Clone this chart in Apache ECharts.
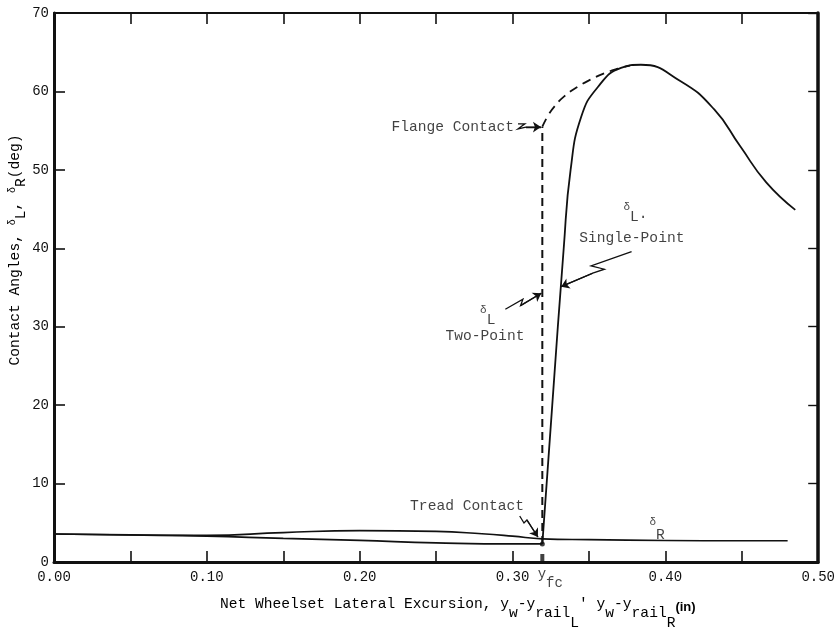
<!DOCTYPE html>
<html>
<head>
<meta charset="utf-8">
<script src="https://cdn.jsdelivr.net/npm/echarts@6/dist/echarts.min.js"></script>
<style>
  html, body { margin: 0; padding: 0; background: #fff; }
  #chart { width: 838px; height: 630px; }
</style>
</head>
<body>
<div id="chart"></div>
<script>
// flange contact position y_fc (in)
const yFc = 0.3195;

// delta R (right wheel, tread)
const deltaRX = [0, 0.05, 0.10, 0.15, 0.20, 0.25, 0.28, 0.30, 0.3195, 0.35, 0.40, 0.45, 0.48];
const deltaRY = [3.57, 3.45, 3.4, 3.75, 4.0, 3.9, 3.6, 3.3, 2.95, 2.85, 2.75, 2.7, 2.7];

// delta L on the tread, up to y_fc
const deltaLTreadX = [0, 0.05, 0.10, 0.15, 0.20, 0.25, 0.30, 0.3195];
const deltaLTreadY = [3.57, 3.45, 3.3, 3.0, 2.75, 2.45, 2.3, 2.3];

// delta L single-point (flange), from y_fc on
const deltaLFlangeX = [0.3195, 0.326, 0.3335, 0.338, 0.345, 0.356, 0.371, 0.384, 0.41, 0.432, 0.449, 0.466, 0.485];
const deltaLFlangeY = [2.3, 20, 40, 50, 56.8, 60.6, 63.0, 63.4, 61.3, 57.7, 53.0, 48.4, 44.9];

// delta L two-point (dashed)
const twoPtJumpY = [2.3, 55.5];
const twoPtX = [0.3195, 0.3235, 0.3275, 0.334, 0.3427, 0.351, 0.360, 0.369, 0.377];
const twoPtY = [55.5, 57.0, 58.1, 59.4, 60.6, 61.5, 62.3, 62.9, 63.3];

// annotation arrows (data coords), last point is the arrow tip
const flangeArrow = [[0.3036, 55.87], [0.3081, 55.87], [0.3036, 55.23], [0.3088, 55.45], [0.3186, 55.45]];
const twoPtArrow = [[0.2953, 32.23], [0.3068, 33.51], [0.3053, 32.69], [0.3188, 34.27]];
const singlePtArrow = [[0.3779, 39.58], [0.3514, 37.76], [0.3601, 37.33], [0.3525, 36.82], [0.3318, 35.11]];
const treadArrow = [[0.3047, 5.87], [0.3075, 4.97], [0.3094, 5.36], [0.3166, 3.19]];

// annotation texts [x, y, text]
const annoTexts = [
  [0.2208, 55.48, 'Flange Contact'],
  [0.3726, 44.54, '{d|δ}{s|L·}'],
  [0.3437, 41.33, 'Single-Point'],
  [0.2788, 31.4, '{d|δ}{s|L}'],
  [0.2562, 28.74, 'Two-Point'],
  [0.2330, 7.14, 'Tread Contact'],
  [0.3896, 4.13, '{d|δ}{r|R}']
];

const MONO = '"Liberation Mono", "DejaVu Sans Mono", monospace';
const INK = '#111';

function pairs(xs, ys) {
  return xs.map(function (x, i) { return [x, ys[i]]; });
}

const allArrows = [flangeArrow, twoPtArrow, singlePtArrow, treadArrow];

let myChart = echarts.init(document.getElementById('chart'), null, { renderer: 'canvas' });

const tok = function (pad, size) {
  return { fontFamily: MONO, fontSize: size || 14.6, color: '#111', verticalAlign: 'top', padding: [pad, 0, 0, 0] };
};

const curve = function (name, data, width, dash) {
  return {
    name: name, type: 'line', data: data,
    smooth: true, showSymbol: false, symbol: 'none',
    lineStyle: { color: INK, width: width, type: dash || 'solid' }
  };
};

myChart.setOption({
  animation: false,
  backgroundColor: '#fff',
  grid: { left: 54, right: 17, top: 13, bottom: 68 },
  xAxis: [
    {
      type: 'value', min: 0, max: 0.5, interval: 0.05, position: 'bottom',
      axisLine: { onZero: false, lineStyle: { color: INK, width: 3 } },
      axisTick: { inside: true, length: 11, lineStyle: { color: INK, width: 1.6 } },
      splitLine: { show: false },
      axisLabel: {
        margin: 8, color: '#111', fontFamily: MONO, fontSize: 14,
        formatter: function (v) {
          return Math.round(v * 100) % 10 === 0 ? v.toFixed(2) : '';
        }
      }
    },
    {
      type: 'value', min: 0, max: 0.5, interval: 0.05, position: 'top',
      axisLine: { onZero: false, lineStyle: { color: INK, width: 2 } },
      axisTick: { inside: true, length: 11, lineStyle: { color: INK, width: 1.6 } },
      axisLabel: { show: false },
      splitLine: { show: false }
    }
  ],
  yAxis: [
    {
      type: 'value', min: 0, max: 70, interval: 10, position: 'left',
      axisLine: { onZero: false, lineStyle: { color: INK, width: 3 } },
      axisTick: { inside: true, length: 11, lineStyle: { color: INK, width: 1.6 } },
      splitLine: { show: false },
      axisLabel: { margin: 5, color: '#111', fontFamily: MONO, fontSize: 14 }
    },
    {
      type: 'value', min: 0, max: 70, interval: 10, position: 'right',
      axisLine: { onZero: false, lineStyle: { color: INK, width: 3.5 } },
      axisTick: { inside: true, length: 10, lineStyle: { color: INK, width: 1.4 } },
      axisLabel: { show: false },
      splitLine: { show: false }
    }
  ],
  graphic: [
    {
      // x axis title
      type: 'text', x: 220, y: 597, silent: true,
      style: {
        text: '{n|Net Wheelset Lateral Excursion, y}{a|w}{n|-y}{a|rail}{b|L}{n|\' y}{a|w}{n|-y}{a|rail}{b|R}{u|(in)}',
        textAlign: 'left', textVerticalAlign: 'top',
        rich: {
          n: tok(0), a: tok(9), b: tok(19),
          u: { fontFamily: '"Liberation Sans", Arial, sans-serif', fontWeight: 'bold', fontSize: 13, color: '#111', verticalAlign: 'top', padding: [4, 0, 0, 0] }
        }
      }
    },
    {
      // y axis title
      type: 'text', x: 7, y: 250, rotation: Math.PI / 2, silent: true,
      style: {
        text: '{n|Contact Angles, }{d|δ}{s|L}{n|, }{d|δ}{s|R}{n|(deg)}',
        textAlign: 'center', textVerticalAlign: 'top',
        rich: { n: tok(1), d: tok(0, 10), s: tok(7) }
      }
    }
  ],
  series: [
    curve('deltaR', pairs(deltaRX, deltaRY), 1.6),
    curve('deltaLTread', pairs(deltaLTreadX, deltaLTreadY), 1.7),
    curve('deltaLSinglePoint', pairs(deltaLFlangeX, deltaLFlangeY), 1.8),
    {
      name: 'twoPointJump', type: 'line', data: pairs([yFc, yFc], twoPtJumpY),
      showSymbol: false, symbol: 'none',
      lineStyle: { color: INK, width: 2, type: [8, 5] }
    },
    curve('twoPoint', pairs(twoPtX, twoPtY), 1.8, [9, 6]),
    {
      // arrow bodies
      name: 'arrowBodies', type: 'lines', coordinateSystem: 'cartesian2d', polyline: true,
      silent: true,
      lineStyle: { color: INK, width: 1.3, opacity: 1, curveness: 0 },
      data: allArrows.map(function (a) { return { coords: a }; })
    },
    {
      // arrow heads on the last segment
      name: 'arrowHeads', type: 'lines', coordinateSystem: 'cartesian2d',
      symbol: ['none', 'arrow'], symbolSize: 8, silent: true,
      lineStyle: { color: INK, width: 1.3, opacity: 1, curveness: 0 },
      data: allArrows.map(function (a) { return { coords: a.slice(-2) }; })
    },
    {
      name: 'texts', type: 'scatter', symbolSize: 0, silent: true,
      data: annoTexts.map(function (t) { return { value: [t[0], t[1]], txt: t[2] }; }),
      label: {
        show: true, position: 'right', distance: 0,
        fontFamily: MONO, fontSize: 14.6, color: '#111',
        formatter: function (p) { return p.data.txt; },
        rich: { d: tok(0, 11), s: tok(8), r: tok(11) }
      }
    },
    {
      name: 'yfc', type: 'scatter', silent: true,
      data: [[yFc, 0]],
      symbol: 'rect', symbolSize: [4, 8], symbolOffset: [0, -4],
      itemStyle: { color: INK },
      label: {
        show: true, position: 'bottom', distance: 5, offset: [8, 0],
        formatter: '{y|y}{f|fc}',
        rich: { y: tok(0, 14), f: tok(9, 14) }
      }
    },
    {
      name: 'treadPoint', type: 'scatter', silent: true,
      data: [[yFc, 2.3]], symbol: 'circle', symbolSize: 5,
      itemStyle: { color: INK }
    }
  ]
});
</script>
</body>
</html>
